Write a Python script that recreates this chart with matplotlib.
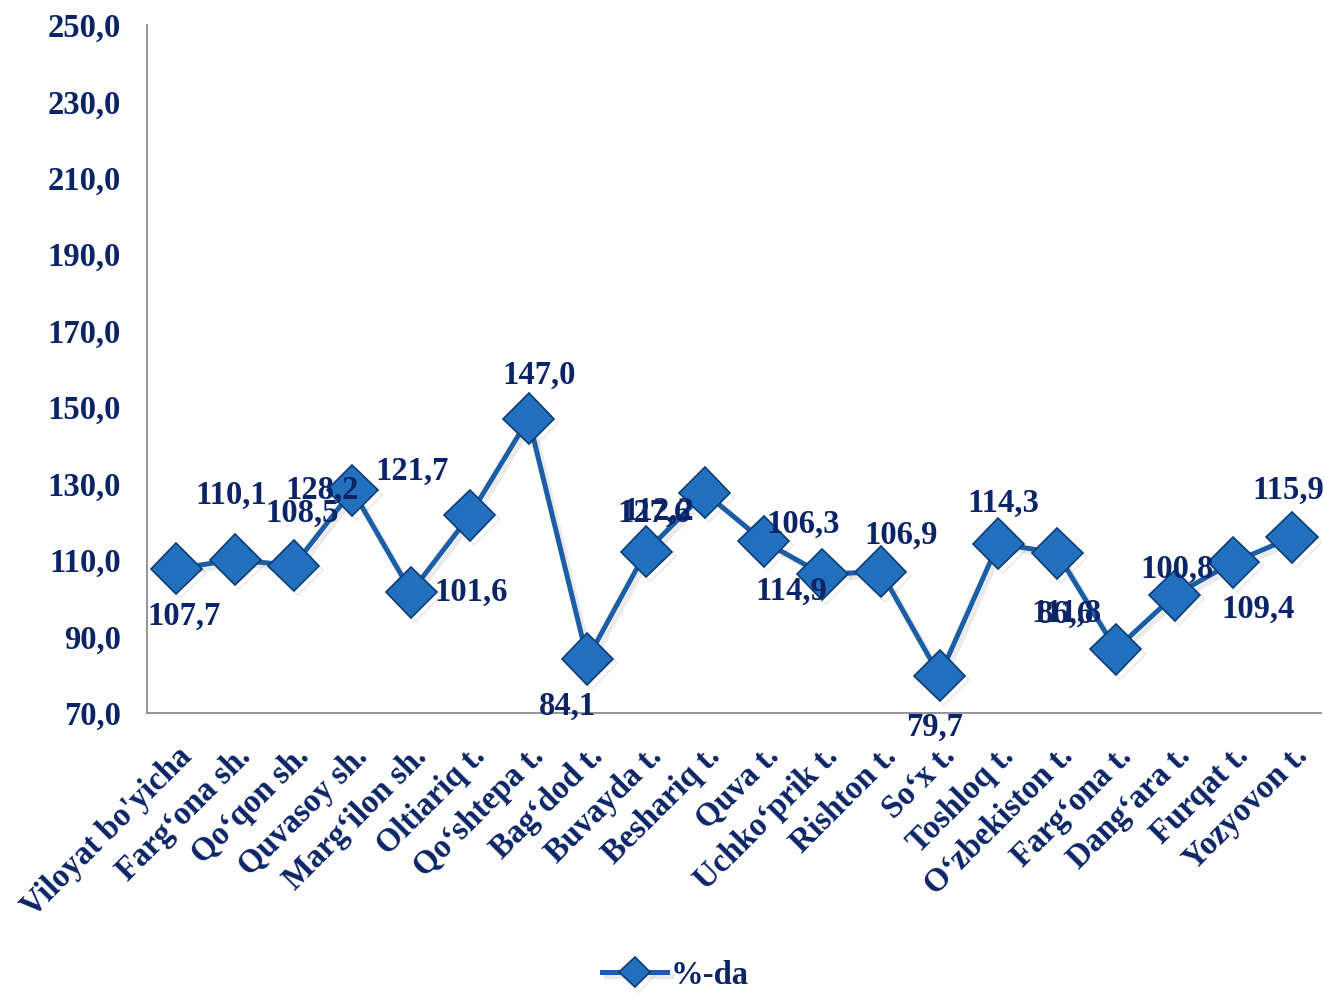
import matplotlib.pyplot as plt
import matplotlib.patheffects as pe

# data
categories = ["Viloyat bo'yicha", "Farg\u2018ona sh.", "Qo\u2018qon sh.", "Quvasoy sh.",
              "Marg\u2018ilon sh.", "Oltiariq t.", "Qo\u2018shtepa t.", "Bag\u2018dod t.",
              "Buvayda t.", "Beshariq t.", "Quva t.", "Uchko\u2018prik t.", "Rishton t.",
              "So\u2018x t.", "Toshloq t.", "O\u2018zbekiston t.", "Farg\u2018ona t.",
              "Dang\u2018ara t.", "Furqat t.", "Yozyovon t."]
values = [107.7, 110.1, 108.5, 128.2, 101.6, 121.7, 147.0, 84.1, 112.2, 127.6,
          114.9, 106.3, 106.9, 79.7, 114.3, 111.8, 86.6, 100.8, 109.4, 115.9]
yticks = [70, 90, 110, 130, 150, 170, 190, 210, 230, 250]

# label offsets in pixels (dx, dy) from each marker, as placed in the original
offsets = [(8, -47), (-4, 64), (8, 52), (-30, 0), (60, 0), (-58, 44), (10, 43),
           (-20, -47), (12, 40), (-51, -21), (28, -50), (-19, 50), (20, 37),
           (-5, -51), (5, 40), (9, -60), (-50, 35), (3, 26), (25, -47), (-4, 47)]

navy = '#0b2466'
font = 'Liberation Serif'

fig = plt.figure(figsize=(13.24, 9.97), dpi=100)
ax = fig.add_axes([0.111, 0.285, 0.887, 0.69])

x = list(range(len(values)))
ax.plot(x, values, color='#1b5ea6', lw=3.6, marker='D', ms=26,
        mfc='#2370bf', mec='#0d3c73', mew=1.2, label='%-da',
        path_effects=[pe.SimpleLineShadow(offset=(3, -3), alpha=0.12, shadow_color='#555555'),
                      pe.Normal()])

for i, v in enumerate(values):
    dx, dy = offsets[i]
    ax.annotate(f'{v:.1f}'.replace('.', ','), (i, v), xytext=(dx * 0.72, dy * 0.72),
                textcoords='offset points', ha='center', va='center',
                fontsize=23.5, fontweight='bold', family=font, color=navy)

ax.set_xlim(-0.5, len(values) - 0.5)
ax.set_ylim(70, 250)
ax.set_yticks(yticks)
ax.set_yticklabels([f'{t:.1f}'.replace('.', ',') for t in yticks],
                   fontsize=23.5, fontweight='bold', family=font, color=navy)
ax.set_xticks(x)
ax.set_xticklabels(categories, rotation=45, ha='right', va='top', rotation_mode='anchor',
                   fontsize=23.5, fontweight='bold', family=font, color=navy)
ax.tick_params(axis='y', length=0, pad=19)
ax.tick_params(axis='x', length=0, pad=20)

for s in ['top', 'right']:
    ax.spines[s].set_visible(False)
for s in ['left', 'bottom']:
    ax.spines[s].set_color('#8c8c8c')
    ax.spines[s].set_linewidth(1.3)

leg = fig.legend(loc='center', bbox_to_anchor=(0.51, 0.022), frameon=False,
                 prop={'family': font, 'weight': 'bold', 'size': 23.5},
                 handlelength=2.0, handletextpad=0.1, markerscale=0.6,
                 borderpad=0.1)
for t in leg.get_texts():
    t.set_color(navy)

fig.savefig('out.png', dpi=100)
